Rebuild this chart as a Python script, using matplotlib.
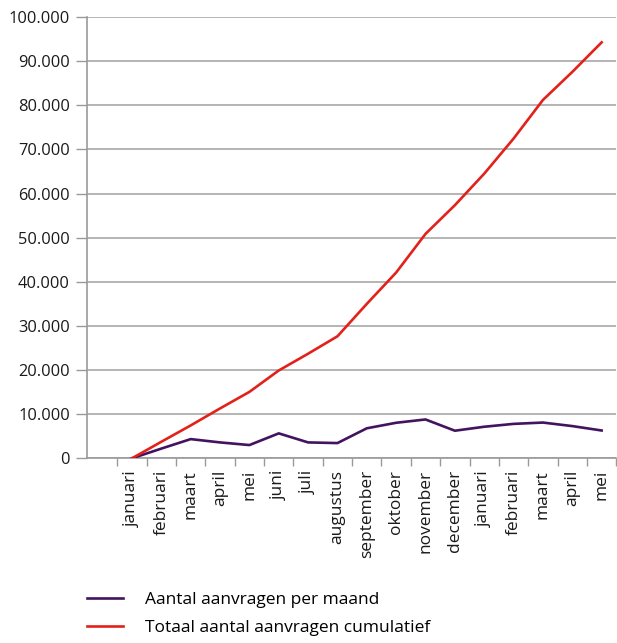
import numpy as np
import matplotlib
matplotlib.use('Agg')
from matplotlib import pyplot as plt
from matplotlib.ticker import FuncFormatter

# maanden (januari t/m mei van het volgende jaar)
maanden = ['januari', 'februari', 'maart', 'april', 'mei', 'juni', 'juli',
           'augustus', 'september', 'oktober', 'november', 'december',
           'januari', 'februari', 'maart', 'april', 'mei']

# aantal aanvragen per maand
per_maand = [0, 2200, 4350, 3600, 3000, 5650, 3600, 3450, 6800, 8050,
             8800, 6250, 7150, 7800, 8100, 7300, 6300]

# totaal aantal aanvragen cumulatief
cumulatief = [0, 3750, 7450, 11300, 15050, 19900, 23700, 27650, 35000,
              42100, 50850, 57350, 64500, 72450, 81200, 87550, 94250]

label_maand = 'Aantal aanvragen per maand'
label_cumulatief = 'Totaal aantal aanvragen cumulatief'

plt.rcParams['font.family'] = ['Open Sans', 'DejaVu Sans']

fig = plt.figure(figsize=(6.17, 6.43), dpi=100)
ax = fig.add_axes([87.3 / 617, 1 - 458.3 / 643, (616.3 - 87.3) / 617, (458.3 - 17) / 643])

x = np.arange(len(maanden))
ax.plot(x, per_maand, color='#42145f', lw=1.9, label=label_maand, zorder=3)
ax.plot(x, cumulatief, color='#e3211b', lw=1.9, label=label_cumulatief, zorder=3)

ax.set_ylim(0, 100000)
ax.set_xlim(-1.523, len(maanden) - 0.5)
ax.set_yticks(np.arange(0, 100001, 10000))
ax.yaxis.set_major_formatter(FuncFormatter(lambda v, p: f'{v:,.0f}'.replace(',', '.')))

# maandlabels in het midden, tickstreepjes op de grenzen
ax.set_xticks(x)
ax.set_xticklabels(maanden, rotation=90, va='top', ha='center')
ax.set_xticks(np.arange(-0.5, len(maanden), 1.0), minor=True)
ax.tick_params(axis='x', which='major', length=0, pad=8.5, labelsize=12.5, colors='#1a1a1a')
ax.tick_params(axis='x', which='minor', length=6, width=1, color='#9a9a9a')
ax.tick_params(axis='y', length=8, width=1, color='#9a9a9a', pad=4.5, labelsize=11.8,
               labelcolor='#1a1a1a')

ax.grid(axis='y', color='#a8a8a8', lw=1.2)
ax.set_axisbelow(True)
for s in ['top', 'right']:
    ax.spines[s].set_visible(False)
for s in ['left', 'bottom']:
    ax.spines[s].set_color('#9a9a9a')
    ax.spines[s].set_linewidth(1.2)

fig.legend(loc='upper left', bbox_to_anchor=(87 / 617, 1 - 592 / 643), frameon=False,
           fontsize=12.5, handlelength=2.05, handletextpad=1.3, labelspacing=0.7,
           borderpad=0, borderaxespad=0)

fig.savefig('out.png', dpi=100)
